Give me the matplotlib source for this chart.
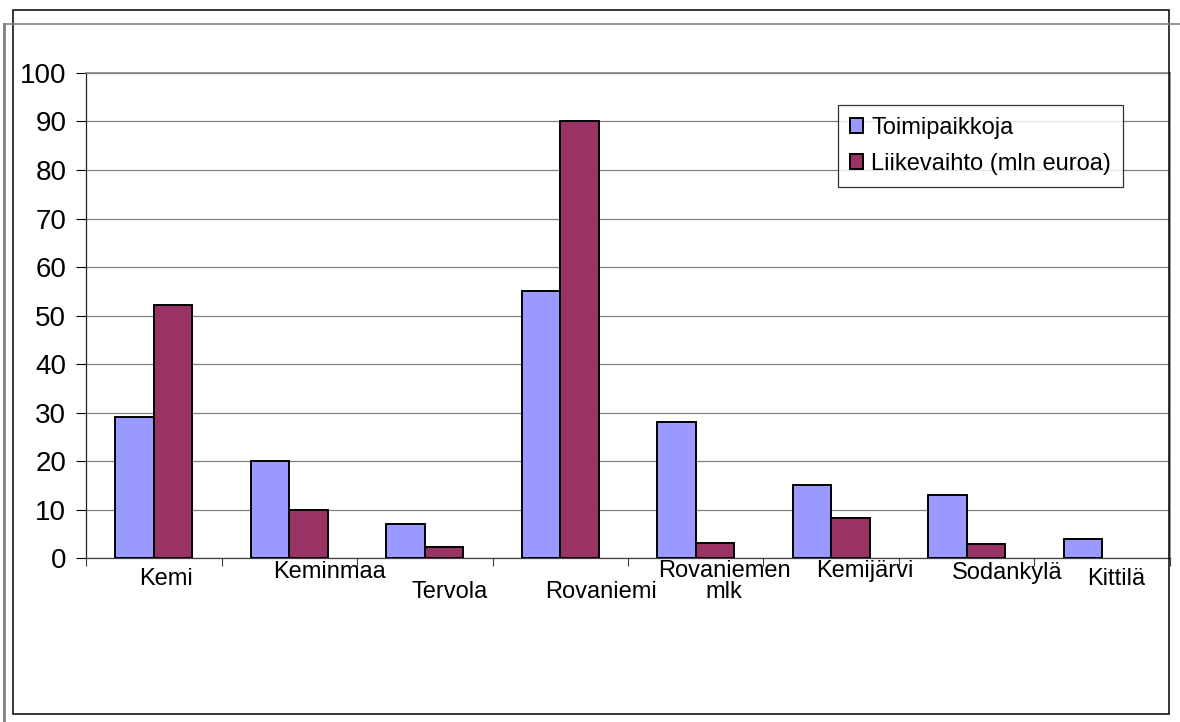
import matplotlib.pyplot as plt
from matplotlib.lines import Line2D
from matplotlib.patches import Rectangle

plt.rcParams['font.family'] = ['Liberation Sans', 'DejaVu Sans']

# Toimipaikat ja liikevaihto kunnittain
kunnat = ['Kemi', 'Keminmaa', 'Tervola', 'Rovaniemi', 'Rovaniemen\nmlk',
          'Kemijärvi', 'Sodankylä', 'Kittilä']
toimipaikkoja = [29, 20, 7, 55, 28, 15, 13, 4]
liikevaihto = [52.2, 9.9, 2.3, 90.1, 3.2, 8.2, 2.8, 0]

# porrastetut kategoriatekstit: siirto oikealle (kategoriayksikköä) ja alas (pt)
label_dx = [0.09, 0.30, 0.18, 0.30, 0.21, 0.25, 0.30, 0.10]
label_dy = [19.5, 14.5, 29, 29, 29, 13.5, 15, 19.5]

blue = '#9999FF'
plum = '#993366'
grid_grey = '#808080'

fig = plt.figure(figsize=(11.8, 7.22), dpi=100)
fig.subplots_adjust(left=0.0729, right=0.9915, top=0.8989, bottom=0.2271)
ax = fig.add_subplot(111)

w = 0.285
x = range(len(kunnat))
for vals, dx, col, lab in [(toimipaikkoja, -w / 2, blue, 'Toimipaikkoja'),
                           (liikevaihto, w / 2, plum, 'Liikevaihto (mln euroa)')]:
    bars = ax.bar([i + dx for i in x], vals, width=w, color=col,
                  edgecolor='black', linewidth=1.4, label=lab, zorder=3)
    for b, v in zip(bars, vals):
        if v == 0:
            b.set_visible(False)

ax.set_xlim(-0.5, len(kunnat) - 0.5)
ax.set_ylim(0, 100)
ax.set_yticks(range(0, 101, 10))
ax.yaxis.grid(True, color=grid_grey, linewidth=0.9, zorder=0)
ax.tick_params(axis='y', labelsize=20, length=7.2, width=0.8, pad=7, colors='black')

# kategoriarajat x-akselilla
ax.set_xticks([i + 0.5 for i in range(-1, len(kunnat))])
ax.set_xticklabels([])
ax.tick_params(axis='x', length=6, width=0.8, color='#404040')

for side in ['top', 'right']:
    ax.spines[side].set_color(grid_grey)
    ax.spines[side].set_linewidth(1.2)
ax.spines['left'].set_color('#202020')
ax.spines['bottom'].set_color('#404040')
ax.spines['left'].set_linewidth(0.9)
ax.spines['bottom'].set_linewidth(0.9)

for i, name in enumerate(kunnat):
    ax.annotate(name, xy=(i + label_dx[i], 0), xycoords=('data', 'axes fraction'),
                xytext=(0, -label_dy[i]), textcoords='offset points',
                ha='center', va='baseline', fontsize=17, linespacing=0.95,
                annotation_clip=False)

leg = ax.legend(loc='upper left', bbox_to_anchor=(0.7102, 0.8546),
                bbox_transform=fig.transFigure, fontsize=17, frameon=True,
                fancybox=False, borderaxespad=0, borderpad=0.5,
                handlelength=0.55, handleheight=0.55, handletextpad=0.35,
                labelspacing=0.6)
leg.get_frame().set_edgecolor('black')
leg.get_frame().set_linewidth(0.9)

# kaavioalueen kehykset
fig.patches.append(Rectangle((13 / 1180, 1 - 714 / 722), (1169 - 13) / 1180,
                             (714 - 10) / 722, transform=fig.transFigure,
                             fill=False, edgecolor='black', linewidth=1.1))
fig.lines.append(Line2D([4 / 1180, 4 / 1180], [0, 1 - 24 / 722],
                        transform=fig.transFigure, color=grid_grey, linewidth=2))
fig.lines.append(Line2D([4 / 1180, 1], [1 - 24 / 722, 1 - 24 / 722],
                        transform=fig.transFigure, color=grid_grey, linewidth=1.2))

fig.savefig('out.png', dpi=100)
